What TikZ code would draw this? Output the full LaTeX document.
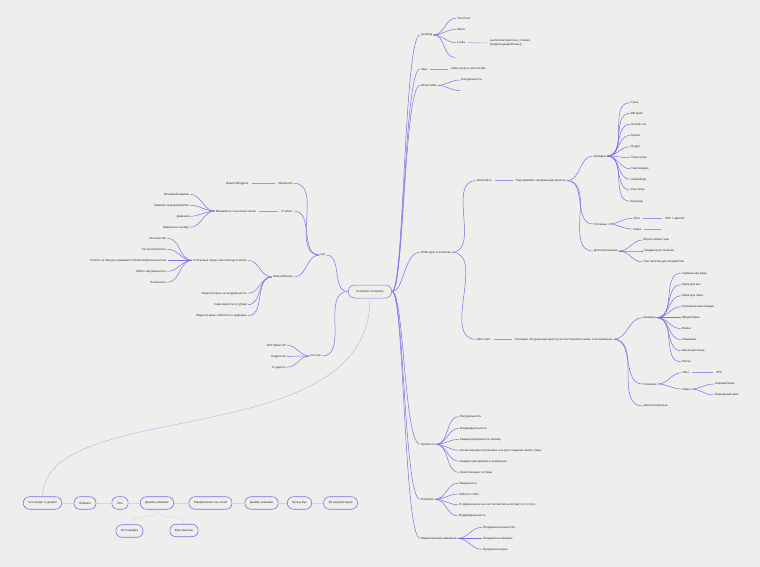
\documentclass[tikz,border=0pt]{standalone}
\usepackage{fontspec}
\setmainfont{Liberation Sans}
\usepackage{tikz}
\usetikzlibrary{positioning}

\definecolor{bgcol}{RGB}{240,238,236}
\definecolor{linecol}{RGB}{128,108,232}
\definecolor{barcol}{RGB}{160,146,240}
\definecolor{txtcol}{RGB}{45,45,45}
\definecolor{faintcol}{RGB}{214,210,224}
\definecolor{softcol}{RGB}{184,174,236}

\tikzstyle{word} = [font=\fontsize{3}{3.7}\selectfont, text=txtcol, inner sep=1pt]
\tikzstyle{rlabel} = [word, anchor=west]
\tikzstyle{llabel} = [word, anchor=east]
\tikzstyle{hub} = [word, draw=linecol, line width=0.5pt, rounded corners=6.5pt, minimum height=13pt, inner xsep=8pt]
\tikzstyle{pill} = [word, draw=linecol, line width=0.6pt, rounded corners=6pt, minimum height=12.5pt, inner xsep=5pt]
\tikzstyle{link} = [draw=linecol, line width=0.5pt]
\tikzstyle{bar} = [draw=barcol, line width=0.5pt, shorten <=2pt, shorten >=2pt]
\tikzstyle{faint} = [draw=faintcol, line width=0.4pt]

\begin{document}
\begin{tikzpicture}[x=1pt, y=-1pt]
  \useasboundingbox (0,0) rectangle (760,567);
  \fill[bgcol] (0,0) rectangle (760,567);

  % center
  \node[hub] (cc) at (370,291.5) {Cosmetics Company};

  % Seeding
  \node[rlabel] (seed) at (420,35) {Seeding};
  \node[rlabel] (twoface) at (456,18.3) {Two Face};
  \node[rlabel] (maria) at (456,29.3) {Maria};
  \node[rlabel] (lucila) at (456,42.7) {Lucila};
  \node[rlabel, align=left] (goddess) at (489,42.9) {как Богиня красоты у словах\\(модели двадебольты)};
  \coordinate (seedx) at (455,57.5);

  % Idea
  \node[rlabel] (idea) at (420,69) {Idea};
  \node[rlabel] (skin2) at (450,69) {make up as a second skin};

  % About what
  \node[rlabel] (about) at (420,85.3) {About what};
  \node[rlabel] (natur) at (460,80) {Натуральность};
  \coordinate (aboutx) at (460,90.7);

  % What type of products
  \node[rlabel] (types) at (420,252.3) {What type of products};
  \node[rlabel] (deco) at (476,180.7) {Decorative};
  \node[rlabel] (decoidea) at (514.5,180.7) {Подчеркивает натуральную красоту};

  \node[rlabel] (dbase) at (593,156) {Базовые};
  \node[rlabel] (db1) at (630,102.7) {Тушь};
  \node[rlabel] (db2) at (630,113.3) {BB крем};
  \node[rlabel] (db3) at (630,124.3) {Легкий тон};
  \node[rlabel] (db4) at (630,135.3) {Кушон};
  \node[rlabel] (db5) at (630,146.7) {Пудра};
  \node[rlabel] (db6) at (630,157.7) {Тени сухие};
  \node[rlabel] (db7) at (630,168.7) {Тени жидкие};
  \node[rlabel] (db8) at (630,179.3) {Хайлайтер};
  \node[rlabel] (db9) at (630,190) {Консилер};
  \node[rlabel] (db10) at (630,201.3) {Бронзер};

  \node[rlabel] (dhard) at (593,224) {Сложные};
  \node[rlabel] (dsummer) at (632.5,218.3) {Лето};
  \node[rlabel] (dspf) at (664,218.3) {SPF с цветом};
  \node[rlabel] (dwinter) at (632.5,229) {Зима};
  \coordinate (dwinterx) at (663,229);

  \node[rlabel] (dextra) at (593,251) {Дополнительные};
  \node[rlabel] (dex1) at (642.5,240) {Водостойкая тушь};
  \node[rlabel] (dex2) at (642.5,251) {Продвинутая палетка};
  \node[rlabel] (dex3) at (642.5,262) {Про палетка для визажистов};

  \node[rlabel] (care) at (476,339.3) {Skin Care};
  \node[rlabel] (careidea) at (513.5,339.3) {Улучшает натуральную красоту на постоянной основе, и не временно};

  \node[rlabel] (sbase) at (642.5,317.7) {Базовые};
  \node[rlabel] (sb1) at (681,273.3) {Термальная вода};
  \node[rlabel] (sb2) at (681,284.7) {Крем для век};
  \node[rlabel] (sb3) at (681,295.7) {Крем для лица};
  \node[rlabel] (sb4) at (681,306.7) {Гигиеническая помада};
  \node[rlabel] (sb5) at (681,317.7) {Мицеллярка};
  \node[rlabel] (sb6) at (681,328.7) {Пенка};
  \node[rlabel] (sb7) at (681,339.7) {Умывалка};
  \node[rlabel] (sb8) at (681,350.7) {Маски для лица};
  \node[rlabel] (sb9) at (681,361.7) {Патчи};

  \node[rlabel] (shard) at (642.5,384) {Сложные};
  \node[rlabel] (ssummer) at (681.5,372.7) {Лето};
  \node[rlabel] (sspf) at (715,372.7) {SPF};
  \node[rlabel] (swinter) at (681.5,389) {Зима};
  \node[rlabel] (sfat) at (714,384) {Жирный крем};
  \node[rlabel] (sbarrier) at (714,395) {Барьерный крем};

  \node[rlabel] (sextra) at (642.5,406) {Дополнительные};

  % Ценности
  \node[rlabel] (values) at (420,444.3) {Ценности};
  \node[rlabel] (v1) at (459,416.7) {Натуральность};
  \node[rlabel] (v2) at (459,428.3) {Индивидуальность};
  \node[rlabel] (v3) at (459,439.3) {Каждая прекрасна по своему};
  \node[rlabel] (v4) at (459,450.3) {Косметика для улучшения а не для создания нового лица};
  \node[rlabel] (v5) at (459,461.3) {Каждая уже красива и уникальна};
  \node[rlabel] (v6) at (459,472.3) {Качественные составы};

  % Emotions
  \node[rlabel] (emo) at (420,499.3) {Emotions};
  \node[rlabel] (e1) at (458,483.3) {Уверенность};
  \node[rlabel] (e2) at (458,494) {Забота о себе};
  \node[rlabel] (e3) at (458,504.7) {Я прекрасна не за счет косметики а потому что я это я};
  \node[rlabel] (e4) at (458,516) {Индивидуальность};

  % Маркетинговая кампания
  \node[rlabel] (market) at (420,538.3) {Маркетинговая кампания};
  \node[rlabel] (m1) at (482,527.3) {Продажи на ценностях};
  \node[rlabel] (m2) at (482,538.3) {Продажи на эмоциях};
  \node[rlabel] (m3) at (482,549.3) {Продажи на идее};

  % ЦА
  \node[llabel] (ca) at (326,255) {ЦА};
  \node[llabel] (infl) at (294,183.3) {Influencers};
  \node[llabel] (bloggers) at (249.5,183.3) {Beauty Bloggers};
  \node[llabel] (stylist) at (294,211) {Стилист};
  \node[llabel] (artists) at (257,211) {Визажисты с высоким чеком};
  \node[llabel] (mk1) at (190,194.3) {Вечерний макияж};
  \node[llabel] (mk2) at (190,205.3) {Макияж на мероприятие};
  \node[llabel] (mk3) at (190,216.3) {Дневной};
  \node[llabel] (mk4) at (190,227.3) {Макияж на съемку};

  \node[llabel] (natural) at (294,277) {Natural Beauty};
  \node[llabel] (status) at (248,260.3) {Статусные люди с высоким достатком};
  \node[llabel] (st1) at (167.5,238.3) {За качество};
  \node[llabel] (st2) at (167.5,249.3) {За экологичность};
  \node[llabel] (st3) at (167.5,260.3) {Платят за бренд и занимаются благотворительностью};
  \node[llabel] (st4) at (167.5,271.3) {Любит натуральность};
  \node[llabel] (st5) at (167.5,282.3) {Полезность};
  \node[llabel] (nb1) at (248,293.3) {Люди которые за натуральность};
  \node[llabel] (nb2) at (248,304.7) {Сама красота по утрам};
  \node[llabel] (nb3) at (248,315.7) {Люди которые заботятся о здоровье};

  % не ЦА
  \node[llabel] (nonca) at (322,356) {non-ЦА};
  \node[llabel] (nc1) at (287,345.3) {ART Make UP};
  \node[llabel] (nc2) at (287,356.3) {Подростки};
  \node[llabel] (nc3) at (287,367.3) {Студенты};

  % design
  \node[pill] (b1) at (42.5,503) {Что входит в дизайн};
  \node[pill] (b2) at (85,503) {Нейминг};
  \node[pill] (b3) at (120,503) {Лого};
  \node[pill] (b4) at (157,503) {Дизайн упаковки};
  \node[pill] (b5) at (210.5,503) {Оформление соц сетей};
  \node[pill] (b6) at (261.5,503) {Дизайн упаковки};
  \node[pill] (b7) at (299.5,503) {Бренд Бук};
  \node[pill] (b8) at (340.5,503) {3D визуализация};
  \node[pill] (b9) at (129.5,531) {Фотографии};
  \node[pill] (b10) at (184,530.5) {Вид палитры};

  % trunk right
  \draw[link] (cc.east) .. controls +(12,0) and +(-16,0) .. (seed.west);
  \draw[link] (cc.east) .. controls +(12,0) and +(-16,0) .. (idea.west);
  \draw[link] (cc.east) .. controls +(12,0) and +(-16,0) .. (about.west);
  \draw[link] (cc.east) .. controls +(12,0) and +(-16,0) .. (types.west);
  \draw[link] (cc.east) .. controls +(12,0) and +(-16,0) .. (values.west);
  \draw[link] (cc.east) .. controls +(12,0) and +(-16,0) .. (emo.west);
  \draw[link] (cc.east) .. controls +(12,0) and +(-16,0) .. (market.west);

  % trunk left
  \draw[link] (cc.west) to[out=180,in=0] (ca.east);
  \draw[link] (cc.west) to[out=180,in=0] (nonca.east);

  % seeding
  \draw[link] (seed.east) to[out=0,in=180] (twoface.west);
  \draw[link] (seed.east) to[out=0,in=180] (maria.west);
  \draw[link] (seed.east) to[out=0,in=180] (lucila.west);
  \draw[link] (seed.east) to[out=0,in=180] (seedx);
  \draw[bar] (lucila.east) -- (goddess.west);
  \draw[bar] (idea.east) -- (skin2.west);
  \draw[link] (about.east) to[out=0,in=180] (natur.west);
  \draw[link] (about.east) to[out=0,in=180] (aboutx);

  % products
  \draw[link] (types.east) to[out=0,in=180] (deco.west);
  \draw[link] (types.east) to[out=0,in=180] (care.west);
  \draw[bar] (deco.east) -- (decoidea.west);
  \draw[bar] (care.east) -- (careidea.west);

  \draw[link] (decoidea.east) to[out=0,in=180] (dbase.west);
  \draw[link] (decoidea.east) to[out=0,in=180] (dhard.west);
  \draw[link] (decoidea.east) to[out=0,in=180] (dextra.west);
  \draw[link] (dbase.east) to[out=0,in=180] (db1.west);
  \draw[link] (dbase.east) to[out=0,in=180] (db2.west);
  \draw[link] (dbase.east) to[out=0,in=180] (db3.west);
  \draw[link] (dbase.east) to[out=0,in=180] (db4.west);
  \draw[link] (dbase.east) to[out=0,in=180] (db5.west);
  \draw[link] (dbase.east) to[out=0,in=180] (db6.west);
  \draw[link] (dbase.east) to[out=0,in=180] (db7.west);
  \draw[link] (dbase.east) to[out=0,in=180] (db8.west);
  \draw[link] (dbase.east) to[out=0,in=180] (db9.west);
  \draw[link] (dbase.east) to[out=0,in=180] (db10.west);
  \draw[link] (dhard.east) to[out=0,in=180] (dsummer.west);
  \draw[link] (dhard.east) to[out=0,in=180] (dwinter.west);
  \draw[bar] (dsummer.east) -- (dspf.west);
  \draw[bar] (dwinter.east) -- (dwinterx);
  \draw[link] (dextra.east) to[out=0,in=180] (dex1.west);
  \draw[link] (dextra.east) to[out=0,in=180] (dex2.west);
  \draw[link] (dextra.east) to[out=0,in=180] (dex3.west);

  \draw[link] (careidea.east) to[out=0,in=180] (sbase.west);
  \draw[link] (careidea.east) to[out=0,in=180] (shard.west);
  \draw[link] (careidea.east) to[out=0,in=180] (sextra.west);
  \draw[link] (sbase.east) to[out=0,in=180] (sb1.west);
  \draw[link] (sbase.east) to[out=0,in=180] (sb2.west);
  \draw[link] (sbase.east) to[out=0,in=180] (sb3.west);
  \draw[link] (sbase.east) to[out=0,in=180] (sb4.west);
  \draw[link] (sbase.east) to[out=0,in=180] (sb5.west);
  \draw[link] (sbase.east) to[out=0,in=180] (sb6.west);
  \draw[link] (sbase.east) to[out=0,in=180] (sb7.west);
  \draw[link] (sbase.east) to[out=0,in=180] (sb8.west);
  \draw[link] (sbase.east) to[out=0,in=180] (sb9.west);
  \draw[link] (shard.east) to[out=0,in=180] (ssummer.west);
  \draw[link] (shard.east) to[out=0,in=180] (swinter.west);
  \draw[bar] (ssummer.east) -- (sspf.west);
  \draw[link] (swinter.east) to[out=0,in=180] (sfat.west);
  \draw[link] (swinter.east) to[out=0,in=180] (sbarrier.west);

  % values, emotions, marketing
  \draw[link] (values.east) to[out=0,in=180] (v1.west);
  \draw[link] (values.east) to[out=0,in=180] (v2.west);
  \draw[link] (values.east) to[out=0,in=180] (v3.west);
  \draw[link] (values.east) to[out=0,in=180] (v4.west);
  \draw[link] (values.east) to[out=0,in=180] (v5.west);
  \draw[link] (values.east) to[out=0,in=180] (v6.west);
  \draw[link] (emo.east) to[out=0,in=180] (e1.west);
  \draw[link] (emo.east) to[out=0,in=180] (e2.west);
  \draw[link] (emo.east) to[out=0,in=180] (e3.west);
  \draw[link] (emo.east) to[out=0,in=180] (e4.west);
  \draw[link] (market.east) to[out=0,in=180] (m1.west);
  \draw[link] (market.east) to[out=0,in=180] (m2.west);
  \draw[link] (market.east) to[out=0,in=180] (m3.west);

  % ЦА
  \draw[link] (ca.west) to[out=180,in=0] (infl.east);
  \draw[link] (ca.west) to[out=180,in=0] (stylist.east);
  \draw[link] (ca.west) to[out=180,in=0] (natural.east);
  \draw[bar] (infl.west) -- (bloggers.east);
  \draw[bar] (stylist.west) -- (artists.east);
  \draw[link] (artists.west) to[out=180,in=0] (mk1.east);
  \draw[link] (artists.west) to[out=180,in=0] (mk2.east);
  \draw[link] (artists.west) to[out=180,in=0] (mk3.east);
  \draw[link] (artists.west) to[out=180,in=0] (mk4.east);
  \draw[link] (natural.west) to[out=180,in=0] (status.east);
  \draw[link] (natural.west) to[out=180,in=0] (nb1.east);
  \draw[link] (natural.west) to[out=180,in=0] (nb2.east);
  \draw[link] (natural.west) to[out=180,in=0] (nb3.east);
  \draw[link] (status.west) to[out=180,in=0] (st1.east);
  \draw[link] (status.west) to[out=180,in=0] (st2.east);
  \draw[link] (status.west) to[out=180,in=0] (st3.east);
  \draw[link] (status.west) to[out=180,in=0] (st4.east);
  \draw[link] (status.west) to[out=180,in=0] (st5.east);
  \draw[link] (nonca.west) to[out=180,in=0] (nc1.east);
  \draw[link] (nonca.west) to[out=180,in=0] (nc2.east);
  \draw[link] (nonca.west) to[out=180,in=0] (nc3.east);

  % design row
  \draw[draw=softcol, line width=0.4pt] (cc.south) .. controls (370,455) and (45,395) .. (b1.north);
  \draw[faint] (b1.east) -- (b2.west);
  \draw[faint] (b2.east) -- (b3.west);
  \draw[faint] (b3.east) -- (b4.west);
  \draw[faint] (b4.east) -- (b5.west);
  \draw[faint] (b5.east) -- (b6.west);
  \draw[faint] (b6.east) -- (b7.west);
  \draw[faint] (b7.east) -- (b8.west);
  \draw[faint] (b4.south) to[out=270,in=90] (b9.north);
  \draw[faint] (b4.south) to[out=270,in=90] (b10.north);
\end{tikzpicture}
\end{document}
